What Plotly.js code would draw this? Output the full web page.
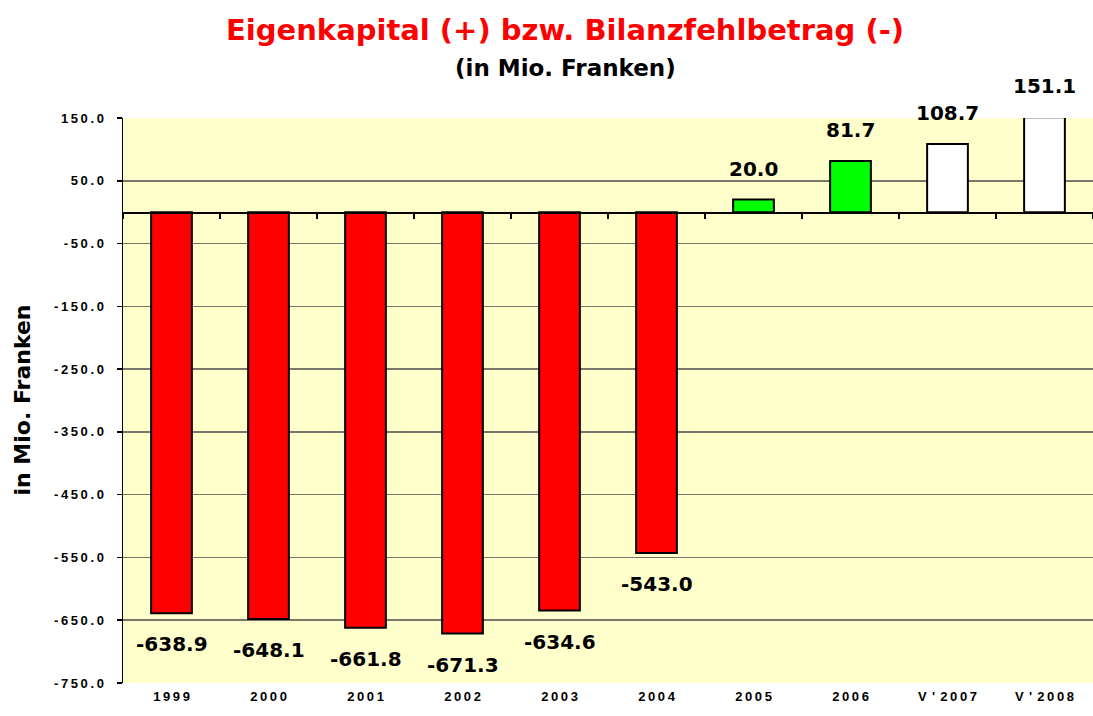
<!DOCTYPE html>
<html>
<head>
<meta charset="utf-8">
<script src="https://cdn.plot.ly/plotly-3.0.1.min.js"></script>
<style>html,body{margin:0;padding:0;background:#fff;}#chart{width:1093px;height:716px;}</style>
</head>
<body>
<div id="chart"></div>
<script>
const categories = ["1999","2000","2001","2002","2003","2004","2005","2006","V'2007","V'2008"];
const values = [-638.9, -648.1, -661.8, -671.3, -634.6, -543.0, 20.0, 81.7, 108.7, 151.1];
const barColors = ["#FF0000","#FF0000","#FF0000","#FF0000","#FF0000","#FF0000","#00FF00","#00FF00","#FFFFFF","#FFFFFF"];
const yTickVals = [150, 50, -50, -150, -250, -350, -450, -550, -650, -750];

const spaced = s => s.split('').join('\u2009');
const yTickText = yTickVals.map(v => spaced(v.toFixed(1)));
const xTickText = categories.map(c => spaced(c).replace("'", "\u2009'\u2009"));

const yMin = -750, yMax = 150;
const xRange = [-0.5, categories.length - 0.5];
const toPaperY = v => (v - yMin) / (yMax - yMin);

const traces = [
  {
    type: 'bar',
    x: categories,
    y: values,
    marker: {color: barColors, line: {color: '#000000', width: 2}},
    width: 0.42,
    cliponaxis: false,
    hoverinfo: 'x+y'
  },
  {
    type: 'scatter',
    x: categories,
    y: categories.map(() => 0),
    xaxis: 'x2',
    yaxis: 'y',
    mode: 'none',
    hoverinfo: 'skip',
    showlegend: false
  }
];

const annotations = values.map((v, i) => ({
  x: i,
  y: toPaperY(v),
  xref: 'x',
  yref: 'paper',
  text: v.toFixed(1),
  showarrow: false,
  xanchor: 'center',
  yanchor: 'middle',
  yshift: v >= 0 ? 31 : -31,
  font: {family: 'DejaVu Sans', size: 20, color: '#000000', weight: 'bold'}
}));

annotations.push({
  text: '(in Mio. Franken)',
  xref: 'paper', yref: 'paper',
  x: (565 - 123) / 970, y: 1 + (118 - 68) / 565,
  xanchor: 'center', yanchor: 'middle',
  showarrow: false,
  font: {family: 'DejaVu Sans', size: 23, color: '#000000', weight: 'bold'}
});
annotations.push({
  text: 'in Mio. Franken',
  xref: 'paper', yref: 'paper',
  x: (22 - 123) / 970, y: 0.5,
  xanchor: 'center', yanchor: 'middle',
  textangle: -90,
  showarrow: false,
  font: {family: 'DejaVu Sans', size: 22, color: '#000000', weight: 'bold'}
});

const layout = {
  width: 1093,
  height: 716,
  margin: {l: 123, r: 0, t: 118, b: 33, pad: 0},
  paper_bgcolor: '#FFFFFF',
  plot_bgcolor: '#FFFFCC',
  showlegend: false,
  title: {
    text: 'Eigenkapital (+) bzw. Bilanzfehlbetrag (-)',
    font: {family: 'DejaVu Sans', size: 29, color: '#FF0000', weight: 'bold'},
    x: 565 / 1093, xanchor: 'center', xref: 'container',
    y: 1 - 30 / 716, yanchor: 'middle', yref: 'container'
  },
  xaxis: {
    type: 'category',
    categoryorder: 'array',
    categoryarray: categories,
    range: xRange,
    tickvals: categories,
    ticktext: xTickText,
    showgrid: false,
    showline: false,
    zeroline: false,
    ticks: '',
    tickfont: {family: 'Liberation Sans', size: 13, color: '#000000', weight: 'bold'},
    ticklabelstandoff: 4,
    fixedrange: true
  },
  xaxis2: {
    type: 'category',
    categoryorder: 'array',
    categoryarray: categories,
    range: xRange,
    overlaying: 'x',
    anchor: 'free',
    position: toPaperY(0),
    showline: true,
    linecolor: '#000000',
    linewidth: 1.5,
    ticks: 'outside',
    tickson: 'boundaries',
    ticklen: 5,
    tickcolor: '#000000',
    tickwidth: 1.5,
    showticklabels: false,
    showgrid: false,
    zeroline: false
  },
  yaxis: {
    range: [yMin, yMax],
    tickvals: yTickVals,
    ticktext: yTickText,
    showgrid: true,
    gridcolor: '#77776a',
    gridwidth: 1.5,
    zeroline: false,
    showline: true,
    linecolor: '#000000',
    linewidth: 1.5,
    ticks: 'outside',
    ticklen: 5,
    tickcolor: '#000000',
    tickwidth: 1.5,
    tickfont: {family: 'Liberation Sans', size: 13, color: '#000000', weight: 'bold'},
    ticklabelstandoff: 10,
    fixedrange: true
  },
  annotations: annotations
};

Plotly.newPlot('chart', traces, layout, {displayModeBar: false, staticPlot: true});
</script>
</body>
</html>
